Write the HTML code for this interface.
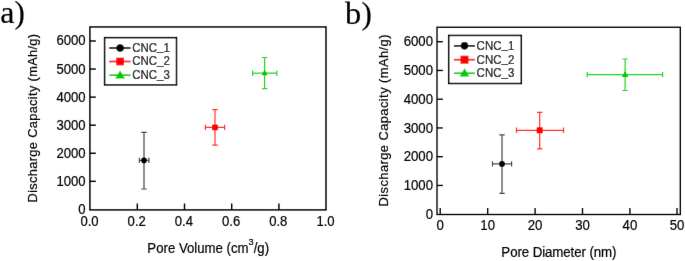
<!DOCTYPE html>
<html><head><meta charset="utf-8"><title>Discharge capacity charts</title>
<style>html,body{margin:0;padding:0;background:#fff}svg{display:block}text{font-family:"Liberation Sans",Arial,sans-serif;fill:#000;stroke:#000;stroke-width:0.2px}</style>
</head><body>
<svg width="685" height="261" viewBox="0 0 685 261">
<defs><filter id="soft" x="0" y="0" width="685" height="261" filterUnits="userSpaceOnUse"><feConvolveMatrix order="3" kernelMatrix="0.00276 0.04704 0.00276 0.04704 0.80077 0.04704 0.00276 0.04704 0.00276" edgeMode="duplicate" preserveAlpha="false"/></filter></defs>
<rect width="685" height="261" fill="#fff"/>
<g filter="url(#soft)">
<rect x="89.9" y="26.95" width="236.10" height="182.95" fill="none" stroke="#000" stroke-width="1.45"/>
<text transform="translate(85.60,213.90) scale(1,1.06)" font-size="13.1" text-anchor="end">0</text>
<line x1="89.9" y1="181.33" x2="95.80" y2="181.33" stroke="#000" stroke-width="1.45"/>
<text transform="translate(85.60,185.83) scale(1,1.06)" font-size="13.1" text-anchor="end">1000</text>
<line x1="89.9" y1="153.26" x2="95.80" y2="153.26" stroke="#000" stroke-width="1.45"/>
<text transform="translate(85.60,157.76) scale(1,1.06)" font-size="13.1" text-anchor="end">2000</text>
<line x1="89.9" y1="125.19" x2="95.80" y2="125.19" stroke="#000" stroke-width="1.45"/>
<text transform="translate(85.60,129.69) scale(1,1.06)" font-size="13.1" text-anchor="end">3000</text>
<line x1="89.9" y1="97.12" x2="95.80" y2="97.12" stroke="#000" stroke-width="1.45"/>
<text transform="translate(85.60,101.62) scale(1,1.06)" font-size="13.1" text-anchor="end">4000</text>
<line x1="89.9" y1="69.05" x2="95.80" y2="69.05" stroke="#000" stroke-width="1.45"/>
<text transform="translate(85.60,73.55) scale(1,1.06)" font-size="13.1" text-anchor="end">5000</text>
<line x1="89.9" y1="40.98" x2="95.80" y2="40.98" stroke="#000" stroke-width="1.45"/>
<text transform="translate(85.60,45.48) scale(1,1.06)" font-size="13.1" text-anchor="end">6000</text>
<text transform="translate(89.50,225.70) scale(1,1.06)" font-size="13.1" text-anchor="middle">0.0</text>
<line x1="137.3" y1="209.9" x2="137.3" y2="203.50" stroke="#000" stroke-width="1.45"/>
<text transform="translate(136.70,225.70) scale(1,1.06)" font-size="13.1" text-anchor="middle">0.2</text>
<line x1="184.5" y1="209.9" x2="184.5" y2="203.50" stroke="#000" stroke-width="1.45"/>
<text transform="translate(183.90,225.70) scale(1,1.06)" font-size="13.1" text-anchor="middle">0.4</text>
<line x1="231.7" y1="209.9" x2="231.7" y2="203.50" stroke="#000" stroke-width="1.45"/>
<text transform="translate(231.10,225.70) scale(1,1.06)" font-size="13.1" text-anchor="middle">0.6</text>
<line x1="278.9" y1="209.9" x2="278.9" y2="203.50" stroke="#000" stroke-width="1.45"/>
<text transform="translate(278.30,225.70) scale(1,1.06)" font-size="13.1" text-anchor="middle">0.8</text>
<text transform="translate(325.50,225.70) scale(1,1.06)" font-size="13.1" text-anchor="middle">1.0</text>
<text transform="translate(208.20,253.30) scale(1,1.06)" font-size="13.2" text-anchor="middle">Pore Volume (cm<tspan font-size="9.2" dy="-7.7">3</tspan><tspan dy="7.7">/g)</tspan></text>
<text transform="translate(36.6,118.15) rotate(-90)" font-size="12.8" text-anchor="middle" textLength="168.5" lengthAdjust="spacing">Discharge Capacity (mAh/g)</text>
<g stroke="#4a4a4a" stroke-width="1.2" fill="none"><path d="M139.4,160.4H148.9M139.4,157.70000000000002V163.1M148.9,157.70000000000002V163.1M144.0,132.3V189.0M141.3,132.3H146.7M141.3,189.0H146.7"/></g>
<circle cx="144.0" cy="160.4" r="2.80" fill="#000"/>
<g stroke="#ff3434" stroke-width="1.2" fill="none"><path d="M205.4,127.4H224.6M205.4,124.7V130.1M224.6,124.7V130.1M215,109.7V145.2M212.3,109.7H217.7M212.3,145.2H217.7"/></g>
<rect x="212.20" y="124.60" width="5.60" height="5.60" fill="#ff0000"/>
<g stroke="#2ad42a" stroke-width="1.2" fill="none"><path d="M252.6,73.2H276.8M252.6,70.5V75.9M276.8,70.5V75.9M264.6,57.5V88.6M261.90000000000003,57.5H267.3M261.90000000000003,88.6H267.3"/></g>
<polygon points="264.60,69.50 261.60,75.30 267.60,75.30" fill="#00cc00"/>
<rect x="104.6" y="37.65" width="71.90" height="47.20" fill="#fff" stroke="#000" stroke-width="1.5"/>
<line x1="109.25" y1="48" x2="130.5" y2="48" stroke="#000" stroke-width="1.6"/>
<circle cx="120.1" cy="48" r="3.75" fill="#000"/>
<text transform="translate(132.20,51.80) scale(1,1.06)" font-size="11.5" text-anchor="start">CNC<tspan dy="-1.35">_</tspan><tspan dy="1.35">1</tspan></text>
<line x1="109.25" y1="61.5" x2="130.5" y2="61.5" stroke="#ff0000" stroke-width="1.6"/>
<rect x="116.25" y="57.65" width="7.70" height="7.70" fill="#ff0000"/>
<text transform="translate(132.20,65.30) scale(1,1.06)" font-size="11.5" text-anchor="start">CNC<tspan dy="-1.35">_</tspan><tspan dy="1.35">2</tspan></text>
<line x1="109.25" y1="75.2" x2="130.5" y2="75.2" stroke="#00cc00" stroke-width="1.6"/>
<polygon points="120.10,70.40 115.35,78.40 124.85,78.40" fill="#00cc00"/>
<text transform="translate(132.20,79.00) scale(1,1.06)" font-size="11.5" text-anchor="start">CNC<tspan dy="-1.35">_</tspan><tspan dy="1.35">3</tspan></text>
<text transform="translate(0.15,23.4) scale(1.03,1)" style="font-family:'Liberation Serif',serif;font-size:31px" stroke="#000" stroke-width="0.25">a</text>
<text x="14.4" y="23.4" style="font-family:'Liberation Serif',serif;font-size:31px" stroke="#000" stroke-width="0.2">)</text>
<rect x="437.0" y="27.25" width="243.30" height="187.25" fill="none" stroke="#000" stroke-width="1.35"/>
<text transform="translate(433.00,218.80) scale(1,1.06)" font-size="13.2" text-anchor="end">0</text>
<line x1="437.0" y1="185.45" x2="442.85" y2="185.45" stroke="#000" stroke-width="1.35"/>
<text transform="translate(433.00,190.05) scale(1,1.06)" font-size="13.2" text-anchor="end">1000</text>
<line x1="437.0" y1="156.70" x2="442.85" y2="156.70" stroke="#000" stroke-width="1.35"/>
<text transform="translate(433.00,161.30) scale(1,1.06)" font-size="13.2" text-anchor="end">2000</text>
<line x1="437.0" y1="127.95" x2="442.85" y2="127.95" stroke="#000" stroke-width="1.35"/>
<text transform="translate(433.00,132.55) scale(1,1.06)" font-size="13.2" text-anchor="end">3000</text>
<line x1="437.0" y1="99.20" x2="442.85" y2="99.20" stroke="#000" stroke-width="1.35"/>
<text transform="translate(433.00,103.80) scale(1,1.06)" font-size="13.2" text-anchor="end">4000</text>
<line x1="437.0" y1="70.45" x2="442.85" y2="70.45" stroke="#000" stroke-width="1.35"/>
<text transform="translate(433.00,75.05) scale(1,1.06)" font-size="13.2" text-anchor="end">5000</text>
<line x1="437.0" y1="41.70" x2="442.85" y2="41.70" stroke="#000" stroke-width="1.35"/>
<text transform="translate(433.00,46.30) scale(1,1.06)" font-size="13.2" text-anchor="end">6000</text>
<line x1="440.2" y1="214.5" x2="440.2" y2="208.00" stroke="#000" stroke-width="1.35"/>
<text transform="translate(440.20,230.40) scale(1,1.06)" font-size="13.2" text-anchor="middle">0</text>
<line x1="487.7" y1="214.5" x2="487.7" y2="208.00" stroke="#000" stroke-width="1.35"/>
<text transform="translate(487.70,230.40) scale(1,1.06)" font-size="13.2" text-anchor="middle">10</text>
<line x1="535.1" y1="214.5" x2="535.1" y2="208.00" stroke="#000" stroke-width="1.35"/>
<text transform="translate(535.10,230.40) scale(1,1.06)" font-size="13.2" text-anchor="middle">20</text>
<line x1="582.5" y1="214.5" x2="582.5" y2="208.00" stroke="#000" stroke-width="1.35"/>
<text transform="translate(582.50,230.40) scale(1,1.06)" font-size="13.2" text-anchor="middle">30</text>
<line x1="629.9" y1="214.5" x2="629.9" y2="208.00" stroke="#000" stroke-width="1.35"/>
<text transform="translate(629.90,230.40) scale(1,1.06)" font-size="13.2" text-anchor="middle">40</text>
<line x1="677.0" y1="214.5" x2="677.0" y2="208.00" stroke="#000" stroke-width="1.35"/>
<text transform="translate(677.00,230.40) scale(1,1.06)" font-size="13.2" text-anchor="middle">50</text>
<text transform="translate(558.90,257.50) scale(1,1.06)" font-size="13.3" text-anchor="middle" textLength="115.1" lengthAdjust="spacing">Pore Diameter (nm)</text>
<text transform="translate(387.6,120.5) rotate(-90)" font-size="12.9" text-anchor="middle" textLength="172" lengthAdjust="spacing">Discharge Capacity (mAh/g)</text>
<g stroke="#4a4a4a" stroke-width="1.2" fill="none"><path d="M492.5,163.9H511.6M492.5,161.20000000000002V166.6M511.6,161.20000000000002V166.6M502.0,134.9V193.3M499.3,134.9H504.7M499.3,193.3H504.7"/></g>
<circle cx="502.0" cy="163.9" r="2.85" fill="#000"/>
<g stroke="#ff3434" stroke-width="1.2" fill="none"><path d="M516.5,130.3H563.5M516.5,127.60000000000001V133.0M563.5,127.60000000000001V133.0M539.7,112.3V148.8M537.0,112.3H542.4000000000001M537.0,148.8H542.4000000000001"/></g>
<rect x="536.75" y="127.35" width="5.90" height="5.90" fill="#ff0000"/>
<g stroke="#2ad42a" stroke-width="1.2" fill="none"><path d="M587.2,74.6H662.6M587.2,71.89999999999999V77.3M662.6,71.89999999999999V77.3M625.1,59.0V90.5M622.4,59.0H627.8000000000001M622.4,90.5H627.8000000000001"/></g>
<polygon points="625.10,70.90 621.90,76.90 628.30,76.90" fill="#00cc00"/>
<rect x="448.7" y="35.45" width="72.60" height="48.05" fill="#fff" stroke="#000" stroke-width="1.5"/>
<line x1="453.9" y1="45.85" x2="475" y2="45.85" stroke="#000" stroke-width="1.6"/>
<circle cx="464.5" cy="45.85" r="3.80" fill="#000"/>
<text transform="translate(476.60,49.65) scale(1,1.06)" font-size="11.5" text-anchor="start">CNC<tspan dy="-1.35">_</tspan><tspan dy="1.35">1</tspan></text>
<line x1="453.9" y1="59.7" x2="475" y2="59.7" stroke="#ff0000" stroke-width="1.6"/>
<rect x="460.55" y="55.75" width="7.90" height="7.90" fill="#ff0000"/>
<text transform="translate(476.60,63.50) scale(1,1.06)" font-size="11.5" text-anchor="start">CNC<tspan dy="-1.35">_</tspan><tspan dy="1.35">2</tspan></text>
<line x1="453.9" y1="73.25" x2="475" y2="73.25" stroke="#00cc00" stroke-width="1.6"/>
<polygon points="464.50,68.25 459.70,76.55 469.30,76.55" fill="#00cc00"/>
<text transform="translate(476.60,77.05) scale(1,1.06)" font-size="11.5" text-anchor="start">CNC<tspan dy="-1.35">_</tspan><tspan dy="1.35">3</tspan></text>
<text transform="translate(345,23.6) scale(1.045,1)" style="font-family:'Liberation Serif',serif;font-size:31px" stroke="#000" stroke-width="0.25">b</text>
<text x="361.5" y="23.6" style="font-family:'Liberation Serif',serif;font-size:31px" stroke="#000" stroke-width="0.2">)</text>
</g>
</svg>
</body></html>
